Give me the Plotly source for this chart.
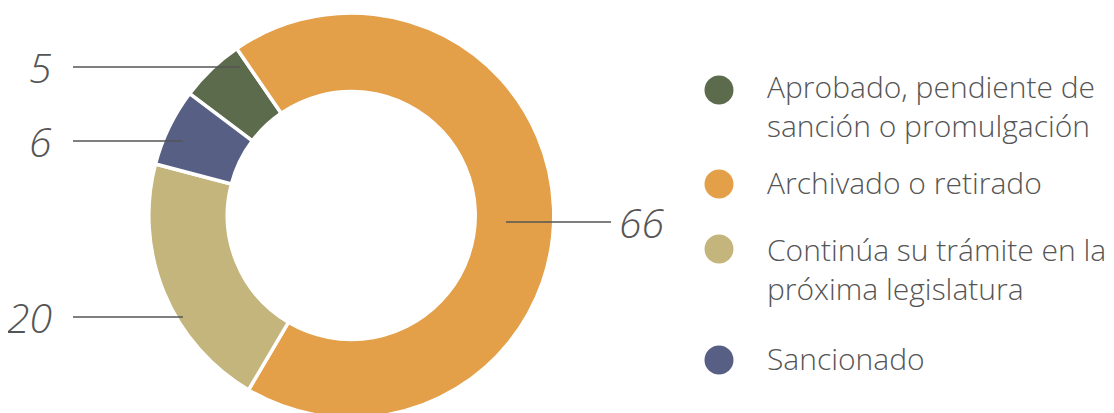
import plotly.graph_objects as go

# la pagina tiene 8px de margen en el body
OFF = 8
W, H = 1114 - OFF, 410

# Datos
categorias = [
    "Aprobado, pendiente de sanción o promulgación",
    "Archivado o retirado",
    "Continúa su trámite en la próxima legislatura",
    "Sancionado",
]
leyenda = [
    "Aprobado, pendiente de<br>sanción o promulgación",
    "Archivado o retirado",
    "Continúa su trámite en la<br>próxima legislatura",
    "Sancionado",
]
valores = [5, 66, 20, 6]
colores = ["#5d6b4d", "#e49f49", "#c4b57d", "#576084"]

TEXT_COLOR = "#555555"
FONT = "'Open Sans', Lato, sans-serif"


def px_x(x):
    return (x - OFF) / W


def px_y(y):
    return 1 - (y - OFF) / H


# geometria del anillo (pixeles de la pagina)
cx, top = 351.3, 13
radio = (H - (top - OFF)) / 2

fig = go.Figure(go.Pie(
    labels=categorias,
    values=valores,
    marker=dict(colors=colores, line=dict(color="white", width=3.5)),
    hole=0.612,
    sort=False,
    direction="clockwise",
    rotation=-53,
    textinfo="none",
    hoverinfo="label+value",
    showlegend=False,
    domain=dict(x=[px_x(cx - radio), px_x(cx + radio)], y=[0, px_y(top)]),
))

# etiquetas de valores con lineas guia: (y, x inicio linea, x fin linea, lado)
guias = [
    (67, 73, 240, "left"),
    (222, 506, 611, "right"),
    (317, 73, 183, "left"),
    (141, 73, 183, "left"),
]
for val, (gy, x0, x1, lado) in zip(valores, guias):
    fig.add_shape(type="line", xref="paper", yref="paper",
                  x0=px_x(x0), x1=px_x(x1), y0=px_y(gy), y1=px_y(gy),
                  line=dict(color=TEXT_COLOR, width=1.5))
    if lado == "left":
        tx, anchor = x0 - 19, "right"
    else:
        tx, anchor = x1 + 6, "left"
    fig.add_annotation(
        x=px_x(tx), y=px_y(gy), xref="paper", yref="paper",
        text=str(val), showarrow=False, xanchor=anchor, yanchor="middle",
        font=dict(family=FONT, size=41, color=TEXT_COLOR, style="italic",
                  weight=350),
    )

# leyenda manual con circulos
leyenda_y = [(90, 106), (184, 183), (249, 269), (360, 358)]
for nombre, color, (cy, ty) in zip(leyenda, colores, leyenda_y):
    r = 14.5
    fig.add_shape(type="circle", xref="paper", yref="paper",
                  x0=px_x(719 - r), x1=px_x(719 + r),
                  y0=px_y(cy + r), y1=px_y(cy - r),
                  fillcolor=color, line=dict(width=0))
    fig.add_annotation(
        x=px_x(765), y=px_y(ty), xref="paper", yref="paper",
        text=nombre, showarrow=False, xanchor="left", yanchor="middle",
        align="left",
        font=dict(family=FONT, size=30, color=TEXT_COLOR, weight=350),
    )

fig.update_layout(
    width=W, height=H,
    margin=dict(l=0, r=0, t=0, b=0),
    paper_bgcolor="white",
    plot_bgcolor="white",
    showlegend=False,
)

fig.write_html("out.html")
